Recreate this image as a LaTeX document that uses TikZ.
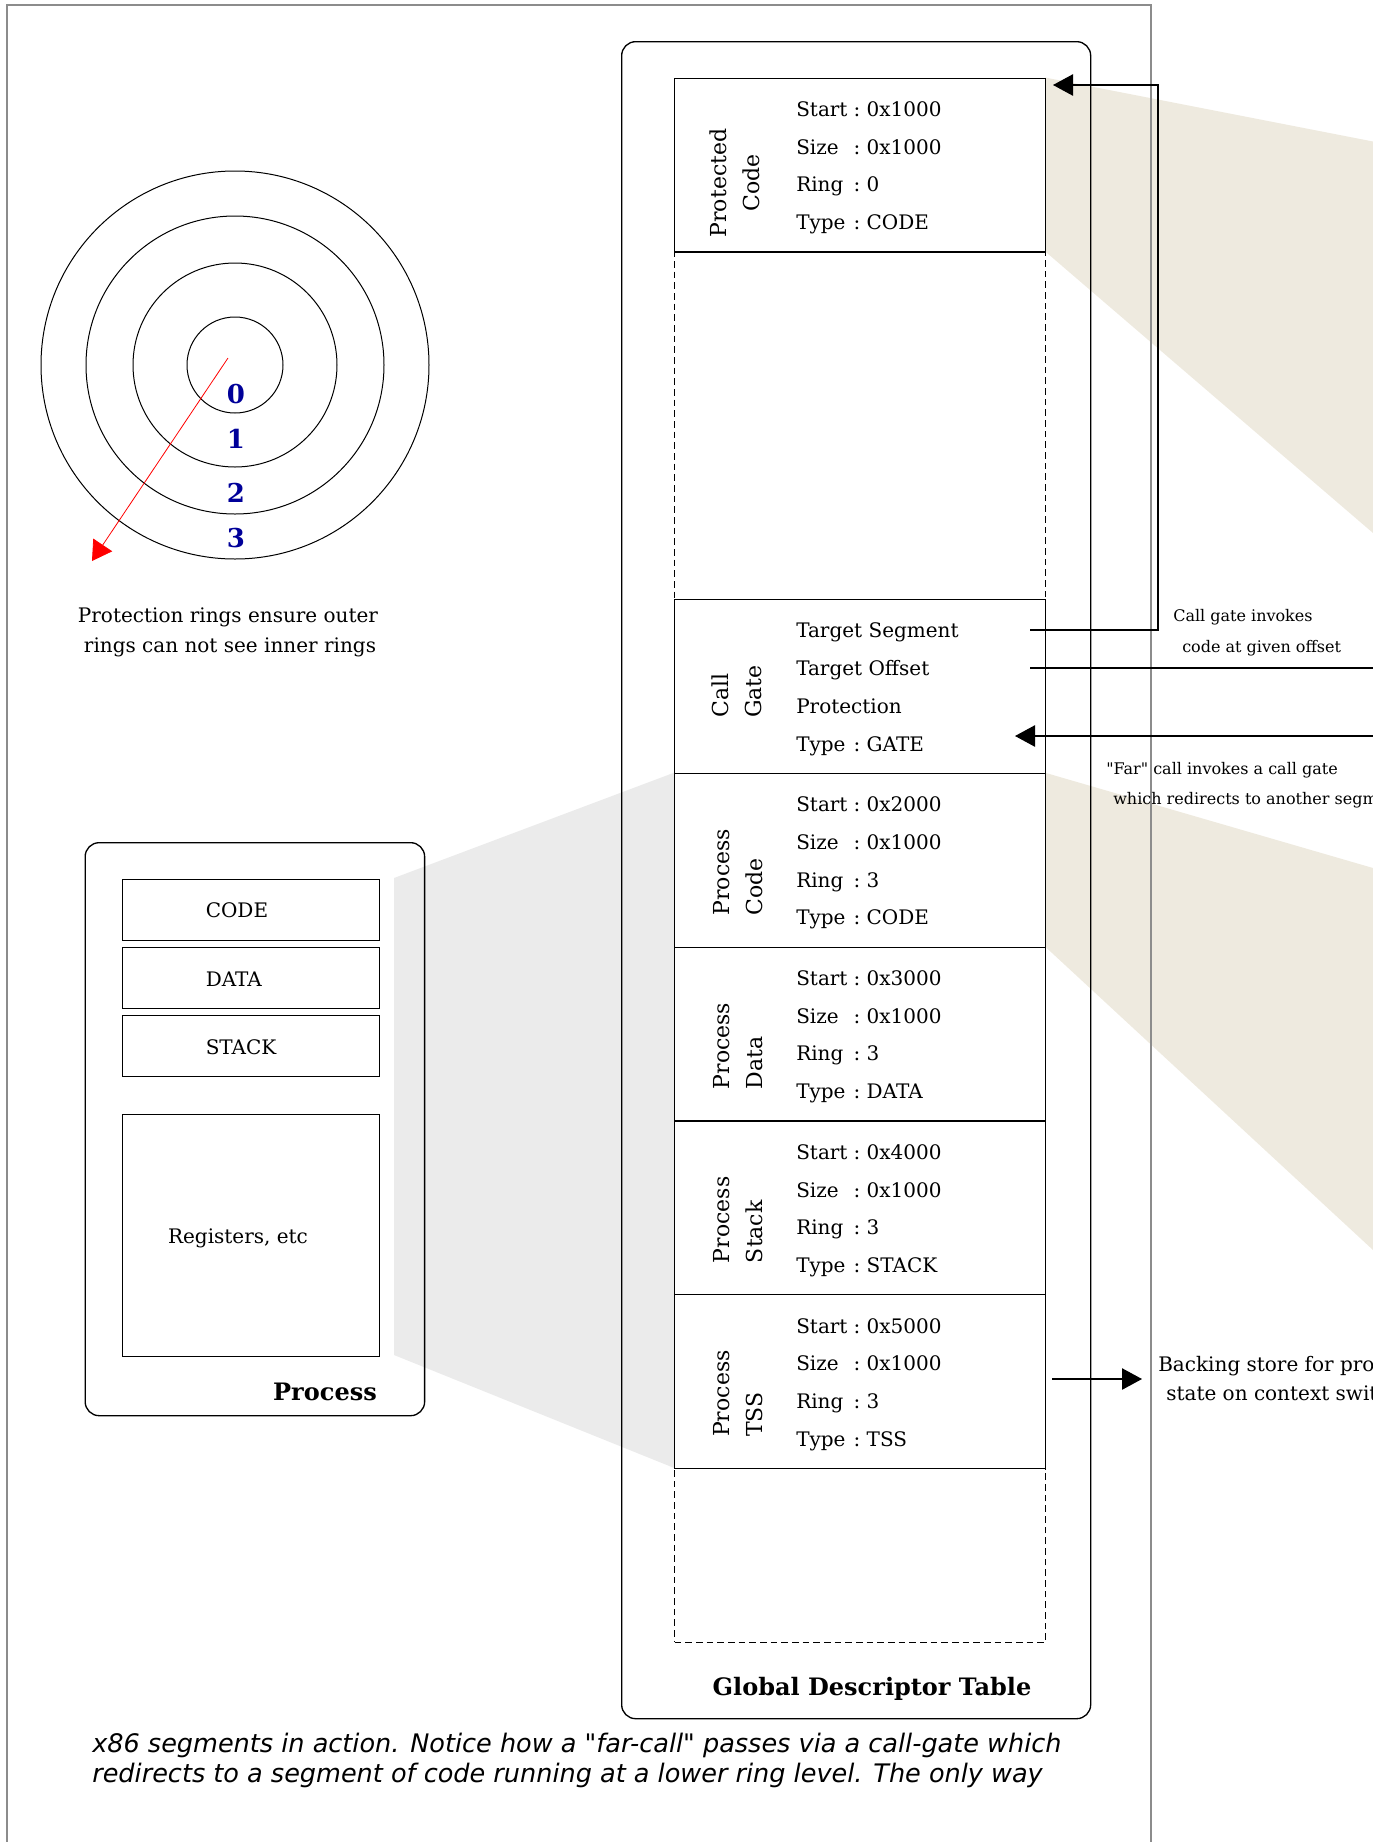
\documentclass[tikz,border=0pt]{standalone}
\usepackage{fontspec}
\setmainfont{DejaVu Serif}
\newfontfamily\capfont{DejaVu Sans}[ItalicFont={DejaVu Sans Oblique}]
\usetikzlibrary{arrows.meta}
\definecolor{wedgetan}{RGB}{238,234,223}
\definecolor{wedgegray}{RGB}{235,235,235}
\definecolor{ringblue}{RGB}{0,0,153}
\newcommand\fl[1]{\makebox[43pt][l]{#1}:\ }

\begin{document}
\begin{tikzpicture}[x=0.75pt,y=-0.75pt,
  segbox/.style={draw, line width=1pt, anchor=north west, inner sep=0pt,
                 minimum width=278.25pt, minimum height=130.35pt},
  gapbox/.style={segbox, dash pattern=on 5pt off 3pt},
  rbox/.style={draw, line width=1pt, rounded corners=10.5pt, anchor=north west, inner sep=0pt},
  field/.style={anchor=base west, inner sep=0pt, font=\fontsize{15}{18}\selectfont},
  seglbl/.style={rotate=90, inner sep=0pt, align=left, font=\fontsize{16.5}{24.75}\selectfont},
  note/.style={anchor=base west, inner sep=0pt, font=\fontsize{12}{14}\selectfont},
  title/.style={anchor=base, inner sep=0pt, font=\fontsize{18}{21}\selectfont\bfseries},
  bigarrow/.style={line width=1pt, -{Triangle[length=15pt,width=16pt]}}]
\useasboundingbox (0,0) rectangle (1373,1842);
\clip (0,0) rectangle (1373,1842);

% projections behind the tables
\fill[wedgegray] (394,878) -- (674,772.7) -- (674,1467.9) -- (394,1355) -- cycle;
\fill[wedgetan] (1045,77.5) -- (1373,141.5) -- (1373,533) -- (1045,251.3) -- cycle;
\fill[wedgetan] (1045,772.7) -- (1373,868) -- (1373,1250) -- (1045,946.5) -- cycle;

% page frame
\draw[black!45, line width=1.2pt] (7,1860) -- (7,5) -- (1151,5) -- (1151,1860);

% protection rings
 \begin{scope}[every node/.style={draw, circle, line width=0.75pt, inner sep=0pt}]
  \node[minimum size=72pt] (ring0) at (235,365) {};
  \node[minimum size=153pt] (ring1) at (235,365) {};
  \node[minimum size=223.5pt] (ring2) at (235,365) {};
  \node[minimum size=291pt] (ring3) at (235,365) {};
 \end{scope}
 \begin{scope}[every node/.style={anchor=base, inner sep=0pt, text=ringblue,
     font=\fontsize{19.5}{22}\selectfont\bfseries}]
  \node (num0) at (236,403) {0};
  \node (num1) at (236,448) {1};
  \node (num2) at (236,502) {2};
  \node (num3) at (236,547) {3};
 \end{scope}
\coordinate (rstart) at (228,358);
\coordinate (rend) at (92,561);
\draw[red, line width=0.6pt, -{Triangle[length=14.5pt,width=17pt]}] (rstart) -- (rend);
\node[anchor=base, inner sep=0pt, font=\fontsize{15}{18}\selectfont] (ringnote1) at (228,622) {Protection rings ensure outer};
\node[anchor=base, inner sep=0pt, font=\fontsize{15}{18}\selectfont] (ringnote2) at (230,652) {rings can not see inner rings};

% process
\node[rbox, minimum width=254.6pt, minimum height=429.75pt] (proc) at (84.5,842) {};
 \begin{scope}[every node/.style={draw, line width=1pt, anchor=north west, inner sep=0pt, minimum width=192.75pt}]
  \node[minimum height=45.75pt] (code) at (122,879) {};
  \node[minimum height=45.75pt] (data) at (122,947) {};
  \node[minimum height=45.75pt] (stack) at (122,1015) {};
  \node[minimum height=181.5pt] (regs) at (122,1114) {};
 \end{scope}
\node[field] (codetxt) at (205.5,917) {CODE};
\node[field] (datatxt) at (205.5,986) {DATA};
\node[field] (stacktxt) at (205.5,1054) {STACK};
\node[field, anchor=base] (regstxt) at (238,1243) {Registers, etc};
\node[title] (proctitle) at (325,1400) {Process};

% global descriptor table
\node[rbox, minimum width=351.75pt, minimum height=1257.75pt] (gdt) at (621,41) {};
\node[gapbox, minimum height=260.7pt] (gap1) at (674,251.3) {};
\node[gapbox] (gap2) at (674,1467.9) {};

\node[segbox] (prot) at (674,77.5) {};
\node[seglbl, align=center] (prot-lbl) at (734.5,183) {Protected\\Code};
\node[field] (prot-f0) at (796,116.5) {\fl{Start}0x1000};
\node[field] (prot-f1) at (796,154.2) {\fl{Size}0x1000};
\node[field] (prot-f2) at (796,191.9) {\fl{Ring}0};
\node[field] (prot-f3) at (796,229.6) {\fl{Type}CODE};

\node[segbox] (gate) at (674,598.9) {};
\node[seglbl, anchor=west] (gate-lbl) at (736.5,718) {Call\\Gate};
\node[field] (gate-f0) at (796,637.9) {Target Segment};
\node[field] (gate-f1) at (796,675.6) {Target Offset};
\node[field] (gate-f2) at (796,713.3) {Protection};
\node[field] (gate-f3) at (796,751) {\fl{Type}GATE};

\foreach \k/\nm/\tb/\st/\ty in {4/pcode/Code/0x2000/CODE, 5/pdata/Data/0x3000/DATA,
    6/pstack/Stack/0x4000/STACK, 7/ptss/TSS/0x5000/TSS}{
  \pgfmathsetmacro\rt{77.5+173.8*\k}
  \node[segbox] (\nm) at (674,\rt) {};
  \node[seglbl, anchor=west] (\nm-lbl) at (738,{\rt+143}) {Process\\\tb};
  \node[field] (\nm-f0) at (796,{\rt+39}) {\fl{Start}\st};
  \node[field] (\nm-f1) at (796,{\rt+76.7}) {\fl{Size}0x1000};
  \node[field] (\nm-f2) at (796,{\rt+114.4}) {\fl{Ring}3};
  \node[field] (\nm-f3) at (796,{\rt+152.1}) {\fl{Type}\ty};
}
\node[title] (gdttitle) at (872,1695) {Global Descriptor Table};

% gate wiring
\coordinate (tsegout) at (1030,630);
\coordinate (tsegin) at (1053,85);
\coordinate (toffout) at (1030,668);
\coordinate (toffend) at (1373,668);
\coordinate (farin) at (1373,736);
\coordinate (gatein) at (1015,736);
\coordinate (tssout) at (1052,1379);
\coordinate (tssin) at (1142,1379);
\draw[bigarrow] (tsegout) -- (1158,630) |- (tsegin);
\draw[line width=1pt] (toffout) -- (toffend);
\draw[bigarrow] (farin) -- (gatein);
\draw[bigarrow] (tssout) -- (tssin);

\node[note] (gatenote1) at (1173,621.7) {Call gate invokes};
\node[note] (gatenote2) at (1182,652.7) {code at given offset};
\node[note] (farnote1) at (1106,774) {\textquotedbl Far\textquotedbl{} call invokes a call gate};
\node[note] (farnote2) at (1113,804) {which redirects to another segment};
\node[field] (tssnote1) at (1158,1371) {Backing store for process};
\node[field] (tssnote2) at (1166,1400) {state on context switch};

% caption
 \begin{scope}[every node/.style={anchor=base west, inner sep=0pt, font=\capfont\itshape\fontsize{19.15}{22}\selectfont}]
  \node (cap1) at (92,1752) {x86 segments in action. Notice how a "far-call" passes via a call-gate which};
  \node (cap2) at (92,1782) {redirects to a segment of code running at a lower ring level. The only way};
 \end{scope}
\end{tikzpicture}
\end{document}
